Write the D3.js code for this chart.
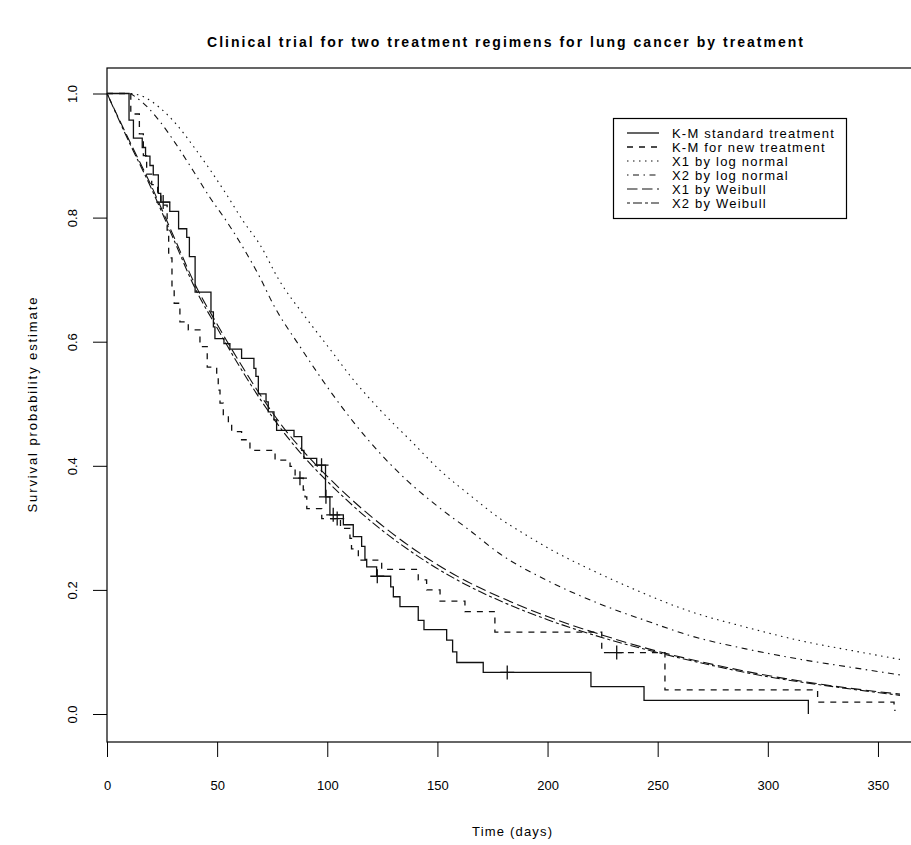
<!DOCTYPE html>
<meta charset="utf-8">
<style>
    body { margin: 0; background: #fff; }
    text { font-family: "Liberation Sans", Arial, sans-serif; fill: #000; }
    .km { fill: none; stroke: #111; stroke-width: 1.3px; }
    .fit { fill: none; stroke: #111; stroke-width: 1.1px; }
</style>
<body>
<script src="https://cdn.jsdelivr.net/npm/d3@7"></script>
<script>

// K-M standard treatment: [day of drop, survival after drop]
const kmStandard = [
    [0, 1.000], [10, 0.957], [12, 0.928], [16, 0.913], [17.5, 0.899], [19.5, 0.884],
    [21, 0.869], [23.3, 0.839], [24.4, 0.825], [28.5, 0.810], [32.5, 0.782],
    [36.2, 0.768], [37.4, 0.737], [40, 0.680], [47.2, 0.648], [48.3, 0.624],
    [49, 0.605], [53.1, 0.597], [55.8, 0.588], [61.1, 0.573], [66.7, 0.557],
    [67.6, 0.544], [68.7, 0.516], [72.2, 0.503], [73.2, 0.487], [75.8, 0.474],
    [77, 0.457], [84.9, 0.447], [88.4, 0.425], [89.4, 0.412], [95.2, 0.401],
    [99.2, 0.350], [101.2, 0.321], [107.3, 0.305], [111.8, 0.286], [115.6, 0.270],
    [117.1, 0.249], [117.9, 0.237], [122.4, 0.222], [128.8, 0.205], [130, 0.189],
    [133, 0.173], [141.3, 0.151], [143.9, 0.136], [154.2, 0.119], [156.9, 0.100],
    [158.8, 0.083], [170.8, 0.067], [219.7, 0.044], [243.8, 0.022], [318.4, 0.000]
];
const kmStandardEnd = 318.4;
const censorStandard = [25.5, 97.4, 99.4, 102.7, 122.7, 181.7];

// K-M new treatment
const kmNew = [
    [0, 1.000], [10.8, 0.967], [14.7, 0.935], [16.5, 0.900], [18, 0.870], [20.3, 0.853],
    [23, 0.838], [24.5, 0.820], [27.3, 0.780], [28, 0.735], [29.5, 0.690], [30.5, 0.662],
    [33.1, 0.632], [36.9, 0.619], [42.2, 0.592], [45.5, 0.559], [49.8, 0.544],
    [50.5, 0.522], [51.3, 0.501], [52.8, 0.479], [55.1, 0.468], [56.6, 0.455],
    [61.1, 0.442], [64.9, 0.425], [76.3, 0.409], [83.1, 0.399], [85.4, 0.380],
    [89.1, 0.361], [89.9, 0.350], [90.7, 0.331], [97.5, 0.315], [106, 0.299],
    [110.3, 0.283], [111, 0.266], [114.1, 0.248], [124.7, 0.233], [141.3, 0.216],
    [145.1, 0.200], [151.2, 0.182], [162.5, 0.165], [176.1, 0.132], [224.6, 0.099],
    [253.3, 0.039], [322.6, 0.019], [357.3, 0.006]
];
const kmNewEnd = 358;
const censorNew = [87.6, 104.5, 231.4];

const lnX1Days = [0, 10, 16.5, 24, 31.6, 39.2, 46.8, 54.3, 61.9, 69.5, 78, 90, 101, 112, 124, 138, 152, 165, 178, 190, 202, 220, 240, 265, 290, 315, 340, 360];
const lnX1 = [1, 1, 0.995, 0.977, 0.950, 0.915, 0.877, 0.837, 0.794, 0.756, 0.700, 0.640, 0.589, 0.538, 0.490, 0.440, 0.390, 0.352, 0.316, 0.289, 0.264, 0.232, 0.200, 0.165, 0.140, 0.118, 0.101, 0.088];

const lnX2Days = [0, 10, 13.5, 24, 31.6, 39.2, 46.8, 54.3, 61.9, 69.5, 75.5, 88, 101, 112, 124, 136, 150, 165, 178, 200, 224, 245, 265, 290, 315, 340, 360];
const lnX2 = [1, 1, 0.993, 0.955, 0.917, 0.875, 0.832, 0.794, 0.751, 0.703, 0.660, 0.590, 0.522, 0.470, 0.420, 0.377, 0.335, 0.295, 0.259, 0.215, 0.177, 0.150, 0.126, 0.105, 0.088, 0.074, 0.063];

const wbDays = [0, 10, 20, 30, 40, 50, 60, 70, 80, 90, 100, 120, 140, 160, 180, 200, 225, 250, 275, 300, 330, 360];
const wbX1 = [1, 0.925, 0.852, 0.772, 0.692, 0.628, 0.568, 0.512, 0.462, 0.420, 0.383, 0.318, 0.264, 0.220, 0.186, 0.157, 0.127, 0.101, 0.080, 0.062, 0.045, 0.032];
const wbX2 = [1, 0.922, 0.848, 0.767, 0.686, 0.622, 0.561, 0.505, 0.455, 0.412, 0.375, 0.310, 0.257, 0.214, 0.180, 0.152, 0.123, 0.099, 0.078, 0.060, 0.044, 0.030];

const xTicks = [0, 50, 100, 150, 200, 250, 300, 350];
const yTicks = [0, 0.2, 0.4, 0.6, 0.8, 1.0];

const legendLabels = ["K-M standard treatment", "K-M for new treatment", "X1 by log normal",
    "X2 by log normal", "X1 by Weibull", "X2 by Weibull"];
// R lty 1..6 at this resolution
const dashes = ["none", "6,6", "1.5,4.5", "1.5,4.5,6,4.5", "10.5,4.5", "3,3,9,3"];

const width = 911, height = 845;
const box = { left: 107, top: 68, right: 913, bottom: 742 };

const x = d3.scaleLinear().domain([0, 365]).range([107, 911]);
const y = d3.scaleLinear().domain([0, 1]).range([714, 93.5]);

const svg = d3.select("body").append("svg")
    .attr("width", width)
    .attr("height", height);

svg.append("rect").attr("width", width).attr("height", height).attr("fill", "#fff");

// plot box
svg.append("rect")
    .attr("x", box.left).attr("y", box.top)
    .attr("width", box.right - box.left).attr("height", box.bottom - box.top)
    .attr("fill", "none").attr("stroke", "#000").attr("stroke-width", 1.2);

// axes
const yAxis = svg.append("g")
    .attr("transform", `translate(${box.left},0)`)
    .call(d3.axisLeft(y).tickValues(yTicks).tickFormat(d3.format(".1f")).tickSize(14));
yAxis.select(".domain").remove();
yAxis.selectAll(".tick line").attr("stroke", "#000");
yAxis.selectAll(".tick text")
    .attr("x", 0).attr("y", 0).attr("dy", 0)
    .attr("text-anchor", "middle")
    .style("font-size", "13px")
    .attr("transform", "translate(-30,0) rotate(-90)");

const xAxis = svg.append("g")
    .attr("transform", `translate(0,${box.bottom})`)
    .call(d3.axisBottom(x).tickValues(xTicks).tickSize(15).tickPadding(24));
xAxis.select(".domain").remove();
xAxis.selectAll(".tick line").attr("stroke", "#000");
xAxis.selectAll(".tick text").style("font-size", "13px");

// titles
svg.append("text")
    .attr("x", 505).attr("y", 47)
    .attr("text-anchor", "middle")
    .attr("textLength", 596).attr("lengthAdjust", "spacing")
    .style("font-size", "14px").style("font-weight", "bold")
    .text("Clinical trial for two treatment regimens for lung cancer by treatment");

svg.append("text")
    .attr("x", 512).attr("y", 836)
    .attr("text-anchor", "middle")
    .attr("textLength", 80).attr("lengthAdjust", "spacing")
    .style("font-size", "13px")
    .text("Time (days)");

svg.append("text")
    .attr("transform", "translate(37,405) rotate(-90)")
    .attr("text-anchor", "middle")
    .attr("textLength", 215).attr("lengthAdjust", "spacing")
    .style("font-size", "13px")
    .text("Survival probability estimate");

// K-M step curves
const step = d3.line()
    .x(d => x(d[0]))
    .y(d => y(d[1]))
    .curve(d3.curveStepAfter);

function kmPath(steps, end) {
    return steps.concat([[end, steps[steps.length - 1][1]]]);
}

function kmValue(steps, t) {
    let v = 1;
    steps.forEach(s => { if (s[0] <= t) v = s[1]; });
    return v;
}

const plot = svg.append("g");

plot.append("path")
    .attr("class", "km")
    .attr("d", step(kmPath(kmStandard, kmStandardEnd)));

plot.append("path")
    .attr("class", "km")
    .attr("stroke-dasharray", dashes[1])
    .attr("d", step(kmPath(kmNew, kmNewEnd)));

// censor marks
function censorMarks(days, steps) {
    plot.selectAll(null)
        .data(days)
        .enter().append("path")
        .attr("fill", "none")
        .attr("stroke", "#111")
        .attr("stroke-width", 1.3)
        .attr("d", d => {
            const cx = x(d), cy = y(kmValue(steps, d));
            return `M${cx - 7},${cy}H${cx + 7}M${cx},${cy - 7}V${cy + 7}`;
        });
}
censorMarks(censorStandard, kmStandard);
censorMarks(censorNew, kmNew);

// fitted curves
const smooth = d3.line()
    .x(d => x(d[0]))
    .y(d => y(d[1]))
    .curve(d3.curveMonotoneX);

const fits = [
    { days: lnX1Days, vals: lnX1, lty: 2 },
    { days: lnX2Days, vals: lnX2, lty: 3 },
    { days: wbDays, vals: wbX1, lty: 4 },
    { days: wbDays, vals: wbX2, lty: 5 }
];

fits.forEach(f => {
    plot.append("path")
        .attr("class", "fit")
        .attr("stroke-dasharray", dashes[f.lty])
        .attr("d", smooth(f.days.map((d, i) => [d, f.vals[i]])));
});

// legend
const legend = svg.append("g");
legend.append("rect")
    .attr("x", 613.5).attr("y", 118.5)
    .attr("width", 233).attr("height", 100)
    .attr("fill", "#fff").attr("stroke", "#000").attr("stroke-width", 1.2);

legendLabels.forEach((label, i) => {
    const ly = 133 + i * 14;
    legend.append("line")
        .attr("x1", 627).attr("x2", 659)
        .attr("y1", ly).attr("y2", ly)
        .attr("stroke", "#111")
        .attr("stroke-width", i < 2 ? 1.3 : 1.1)
        .attr("stroke-dasharray", dashes[i]);
    legend.append("text")
        .attr("x", 672).attr("y", ly)
        .attr("dy", "0.35em")
        .style("font-size", "13px")
        .style("letter-spacing", "1.2px")
        .text(label);
});

</script>
</body>
</html>
